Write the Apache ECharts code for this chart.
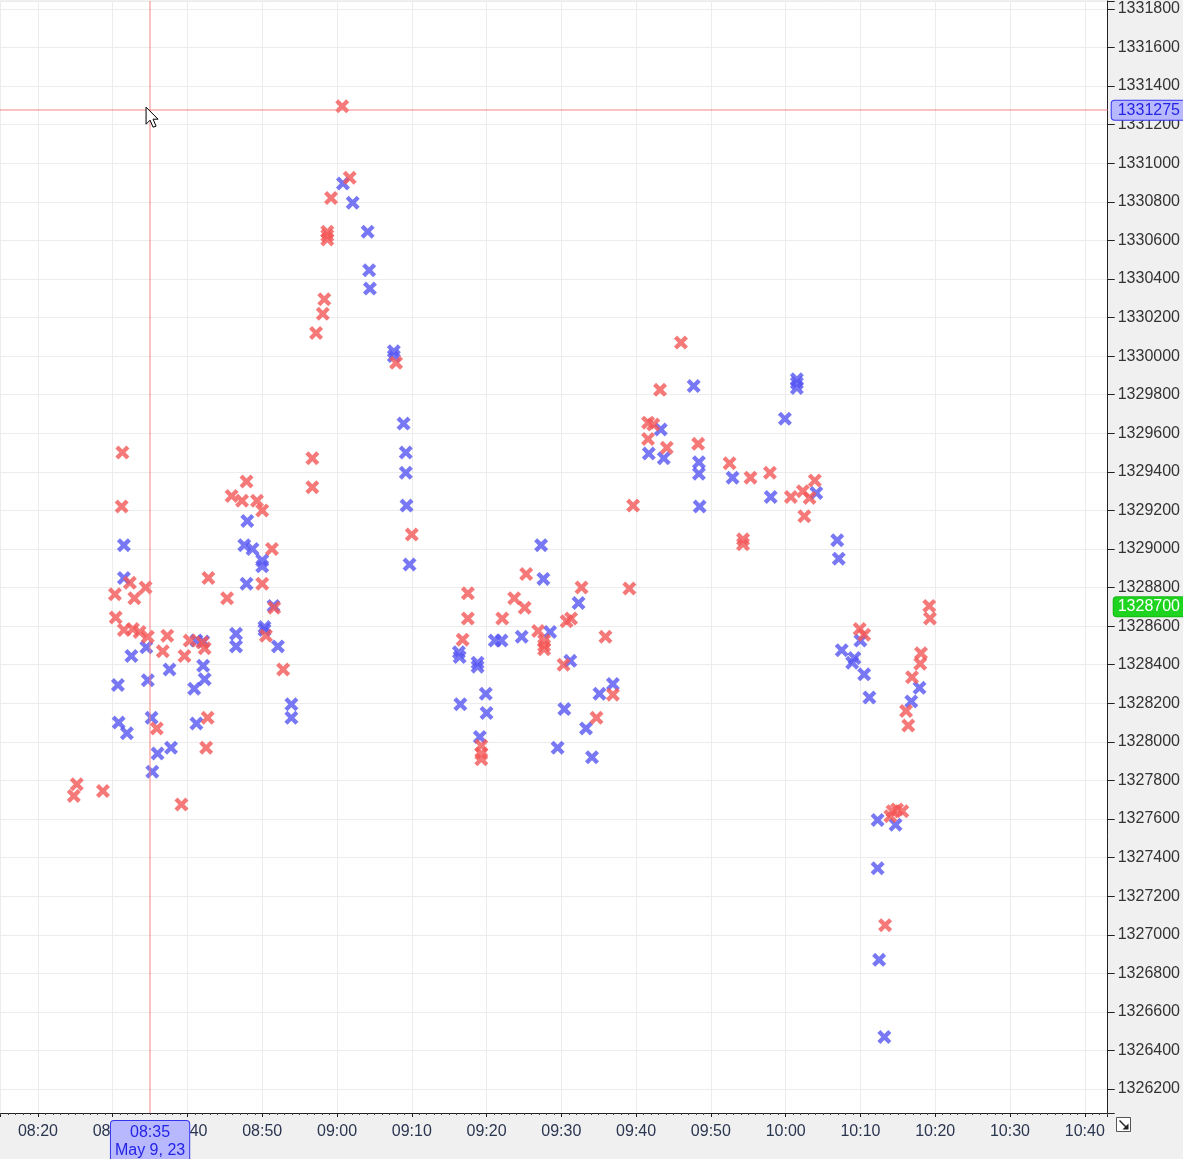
<!DOCTYPE html>
<html><head><meta charset="utf-8">
<script src="https://cdn.jsdelivr.net/npm/echarts@6/dist/echarts.min.js"></script>
<style>html,body{margin:0;padding:0;background:#f0f0f0;overflow:hidden;}#chart{width:1183px;height:1159px;}</style>
</head><body><div id="chart"></div>
<script>
// time values are minutes after 08:00
const xTickMinutes = [20,30,40,50,60,70,80,90,100,110,120,130,140,150,160];
const yTickValues = [1326200,1326400,1326600,1326800,1327000,1327200,1327400,1327600,1327800,1328000,
  1328200,1328400,1328600,1328800,1329000,1329200,1329400,1329600,1329800,1330000,
  1330200,1330400,1330600,1330800,1331000,1331200,1331400,1331600,1331800];
const xRange = [14.93, 163.07];
const yRange = [1326076, 1331841];

const bluePoints = [
  [14.9,1327325],
  [31.5,1329020],[31.5,1328850],[30.7,1328295],[30.8,1328100],[31.9,1328045],
  [32.5,1328445],[34.5,1328490],[34.7,1328320],[35.2,1328125],[36.0,1327940],[35.3,1327845],
  [37.8,1327970],[37.6,1328375],[41.2,1328525],[42.1,1328520],[42.1,1328395],[42.3,1328325],
  [40.9,1328275],[41.2,1328095],
  [46.5,1328560],[46.5,1328495],[48.0,1329145],[47.6,1329020],[48.7,1329000],[50.0,1328940],
  [50.0,1328910],[47.9,1328820],[51.5,1328705],[50.3,1328595],[50.3,1328580],[52.1,1328495],
  [53.9,1328195],[53.9,1328125],
  [60.8,1330895],[62.1,1330795],[64.1,1330645],[64.3,1330445],[64.4,1330350],[67.6,1330025],
  [67.6,1330000],[68.9,1329650],[69.2,1329500],[69.2,1329395],[69.3,1329225],[69.7,1328920],
  [87.3,1329020],[87.6,1328845],[76.3,1328465],[76.4,1328440],[78.8,1328410],[78.8,1328390],
  [81.1,1328525],[82.0,1328525],[84.7,1328545],[88.5,1328570],[92.3,1328720],[91.2,1328420],
  [96.9,1328300],[95.1,1328250],[76.5,1328195],[79.9,1328250],[80.0,1328150],[90.4,1328170],
  [93.3,1328070],[79.1,1328025],[89.5,1327970],[94.1,1327920],
  [107.7,1329845],[103.3,1329620],[101.7,1329495],[103.7,1329470],[108.4,1329450],[108.4,1329390],
  [108.5,1329220],[112.9,1329370],[118.0,1329270],[124.1,1329290],[119.9,1329675],
  [121.5,1329880],[121.5,1329860],[121.5,1329835],
  [126.9,1329045],[127.1,1328950],[130.0,1328525],[127.5,1328475],[129.2,1328435],[128.9,1328410],
  [130.5,1328350],[131.2,1328230],[137.9,1328280],[136.8,1328210],[132.3,1327595],[134.7,1327570],
  [132.3,1327345],[132.5,1326870],[133.2,1326470]
];

const redPoints = [
  [25.2,1327780],[24.8,1327720],[28.7,1327745],[39.2,1327675],
  [31.3,1329500],[31.2,1329220],[30.3,1328765],[30.4,1328645],[32.3,1328825],[32.9,1328745],
  [34.4,1328800],[31.5,1328580],[32.7,1328585],[33.6,1328570],[34.7,1328545],[37.3,1328550],
  [36.7,1328470],[39.6,1328445],[40.3,1328525],[42.0,1328515],[42.3,1328485],[42.8,1328850],
  [45.3,1328745],[35.9,1328070],[42.7,1328125],[42.5,1327970],
  [45.9,1329275],[47.9,1329350],[47.3,1329250],[49.3,1329250],[50.0,1329200],[51.3,1329000],
  [50.0,1328820],[51.6,1328695],[50.5,1328550],[52.8,1328375],[56.7,1329470],[56.7,1329320],
  [60.7,1331295],[61.7,1330925],[59.2,1330820],[58.7,1330645],[58.7,1330625],[58.7,1330605],
  [58.3,1330295],[58.1,1330220],[57.2,1330120],[67.9,1329965],[70.0,1329075],
  [77.5,1328770],[77.5,1328640],[76.8,1328530],[83.7,1328745],[85.1,1328695],[82.1,1328640],
  [85.3,1328870],[86.9,1328575],[87.7,1328525],[87.7,1328500],[87.7,1328480],[90.7,1328625],
  [91.3,1328640],[92.7,1328800],[90.3,1328400],[95.9,1328545],[96.9,1328245],[94.7,1328125],
  [79.3,1327980],[79.3,1327940],[79.3,1327910],
  [99.1,1328795],[99.6,1329225],[106.0,1330070],[103.2,1329825],[101.6,1329655],[102.3,1329645],
  [101.6,1329570],[104.1,1329525],[108.3,1329545],[112.5,1329445],[115.3,1329370],[117.9,1329395],
  [120.7,1329270],[122.3,1329300],[123.2,1329265],[123.9,1329355],[122.5,1329170],
  [114.3,1329050],[114.3,1329025],
  [129.9,1328585],[130.5,1328555],[139.2,1328705],[139.3,1328640],[138.1,1328460],[138.0,1328405],
  [136.9,1328335],[136.1,1328160],[136.4,1328085],[134.3,1327640],[134.9,1327650],[135.6,1327640],
  [134.0,1327615],[133.3,1327050]
];

const crossTime = 35;
const crossPrice = 1331275;
const crossDateLabel = 'May 9, 23';
const lastPrice = 1328700;

function fmtTime(m) {
  const h = 8 + Math.floor(m / 60);
  const mm = Math.round(m % 60);
  return (h < 10 ? '0' : '') + h + ':' + (mm < 10 ? '0' : '') + mm;
}

const X_SYMBOL = 'path://M0,2.6L2.6,0L6,3.4L9.4,0L12,2.6L8.6,6L12,9.4L9.4,12L6,8.6L2.6,12L0,9.4L3.4,6Z';
const FONT = 'Liberation Sans';

const chart = echarts.init(document.getElementById('chart'));
const option = {
  backgroundColor: '#f0f0f0',
  animation: false,
  grid: { left: 0, right: 69, top: 1, bottom: 46, show: true, backgroundColor: '#ffffff', borderWidth: 0 },
  xAxis: {
    type: 'value', min: xRange[0], max: xRange[1], splitNumber: 15,
    axisLine: { show: true, onZero: false, lineStyle: { color: '#222', width: 1 } },
    axisTick: { show: true, length: 4, lineStyle: { color: '#222' } },
    minorTick: { show: true, splitNumber: 10, length: 2, lineStyle: { color: '#444' } },
    axisLabel: {
      customValues: xTickMinutes,
      formatter: v => (xTickMinutes.indexOf(Math.round(v)) >= 0 && Math.abs(v - Math.round(v)) < 1e-6) ? fmtTime(v) : '',
      color: '#2a3550', fontSize: 16, fontFamily: FONT, margin: 11
    },
    splitLine: { show: true, lineStyle: { color: '#ececec', width: 1 } },
    minorSplitLine: { show: false }
  },
  yAxis: {
    type: 'value', position: 'right', min: yRange[0], max: yRange[1], splitNumber: 29, scale: true,
    axisLine: { show: true, onZero: false, lineStyle: { color: '#222', width: 1 } },
    axisTick: { show: true, length: 7, lineStyle: { color: '#222' } },
    axisLabel: {
      customValues: yTickValues,
      formatter: v => (yTickValues.indexOf(Math.round(v)) >= 0) ? String(Math.round(v)) : '',
      color: '#333', fontSize: 16, fontFamily: FONT, margin: 10
    },
    splitLine: { show: true, lineStyle: { color: '#ececec', width: 1 } }
  },
  series: [
    {
      name: 'blue', type: 'scatter', data: bluePoints,
      symbol: X_SYMBOL, symbolSize: 14,
      itemStyle: { color: '#5656f2' }, z: 3
    },
    {
      name: 'red', type: 'scatter', data: redPoints,
      symbol: X_SYMBOL, symbolSize: 14,
      itemStyle: { color: '#f45858' }, z: 4,
      markLine: {
        silent: true, symbol: ['none', 'none'], animation: false,
        lineStyle: { color: 'rgba(248,120,120,0.45)', width: 2, type: 'solid' },
        data: [
          {
            xAxis: crossTime,
            label: {
              show: true, position: 'start', distance: 8,
              formatter: fmtTime(crossTime) + '\n' + crossDateLabel,
              color: '#2424e6', fontSize: 16, fontFamily: FONT, lineHeight: 18,
              backgroundColor: '#b8b8ff', borderColor: '#3434f0', borderWidth: 1,
              borderRadius: 3, padding: [3, 4, 4, 4], align: 'center'
            }
          },
          {
            yAxis: crossPrice,
            label: {
              show: true, position: 'end', distance: 4,
              formatter: String(crossPrice),
              color: '#2424e6', fontSize: 16, fontFamily: FONT,
              backgroundColor: '#b8b8ff', borderColor: '#3434f0', borderWidth: 1,
              borderRadius: 3, padding: [2, 8, 1, 6]
            }
          },
          {
            yAxis: lastPrice,
            lineStyle: { color: 'rgba(255,255,255,0)', width: 1 },
            label: {
              show: true, position: 'end', distance: 6,
              formatter: String(lastPrice),
              color: '#ffffff', fontSize: 16, fontFamily: FONT,
              backgroundColor: '#1fd41f', borderColor: '#16b816', borderWidth: 1,
              borderRadius: 3, padding: [2, 8, 1, 4]
            }
          }
        ]
      }
    }
  ]
};
chart.setOption(option);

// mouse cursor decoration at the crosshair intersection
const p = chart.convertToPixel({ xAxisIndex: 0, yAxisIndex: 0 }, [crossTime, crossPrice]);
chart.setOption({
  graphic: [
    {
      type: 'polygon', z: 100,
      x: p[0] - 4, y: p[1] - 3,
      shape: { points: [[0,0],[0,17],[4,13],[7,20],[10,19],[7,12],[12,12]] },
      style: { fill: '#ffffff', stroke: '#000000', lineWidth: 1 }
    },
    {
      type: 'group', right: 52, bottom: 27, z: 100,
      children: [
        { type: 'rect', shape: { x: 0, y: 0, width: 14, height: 14 }, style: { fill: '#ffffff', stroke: '#555', lineWidth: 1 } },
        { type: 'polyline', shape: { points: [[3,3],[11,11]] }, style: { stroke: '#222', lineWidth: 1.5 } },
        { type: 'polygon', shape: { points: [[12,12],[12,6],[6,12]] }, style: { fill: '#222' } }
      ]
    }
  ]
});
</script>
</body></html>
